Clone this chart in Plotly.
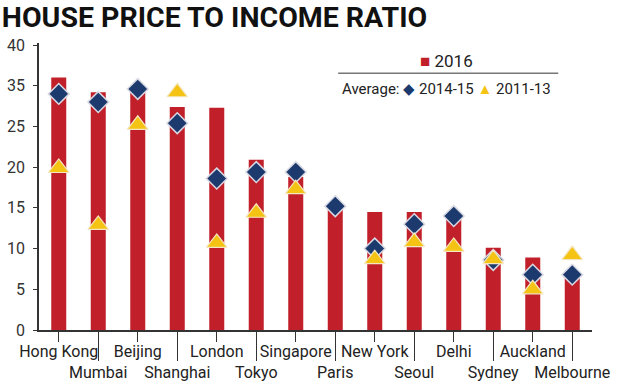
import plotly.graph_objects as go

cities = ["Hong Kong", "Mumbai", "Beijing", "Shanghai", "London", "Tokyo", "Singapore",
          "Paris", "New York", "Seoul", "Delhi", "Sydney", "Auckland", "Melbourne"]
ratio_2016 = [31.0, 29.2, 29.5, 27.4, 27.3, 20.9, 18.8, 14.8, 14.5, 14.5, 14.0, 10.1, 8.9, 7.0]
avg_2014_15 = [29.0, 28.0, 29.6, 25.4, 18.6, 19.4, 19.4, 15.2, 10.0, 13.0, 14.0, 8.6, 6.8, 6.8]
avg_2011_13 = [19.9, 12.9, 25.2, 29.2, 10.7, 14.4, 17.3, None, 8.7, 10.8, 10.2, 8.7, 5.0, 9.2]
y_tick_vals = [0, 5, 10, 15, 20, 25, 30, 35]
y_tick_text = ["0", "5", "10", "15", "20", "25", "35", "40"]

RED = "#C1202B"
NAVY = "#1C3A6E"
GOLD = "#F5C313"
FONT = "Roboto, Arial, sans-serif"

fig = go.Figure()
fig.add_trace(go.Bar(x=cities, y=ratio_2016, name="2016", marker=dict(color=RED, line=dict(width=0)),
                     width=0.38, showlegend=False))
fig.add_trace(go.Scatter(x=cities, y=avg_2014_15, mode="markers", name="2014-15", showlegend=False,
                         marker=dict(symbol="diamond", size=16, color=NAVY,
                                     line=dict(color="#D9D9E3", width=1.5))))
fig.add_trace(go.Scatter(x=cities, y=avg_2011_13, mode="markers", name="2011-13", showlegend=False,
                         marker=dict(symbol="triangle-up", size=18, color=GOLD,
                                     line=dict(color="#F3E6C0", width=1.2))))
# dummy trace to carry the second (staggered) category axis
fig.add_trace(go.Scatter(x=cities, y=[None] * len(cities), xaxis="x2", mode="markers",
                         showlegend=False, hoverinfo="skip"))

fig.update_layout(
    width=618, height=391,
    margin=dict(l=39, r=26, t=43, b=61),
    paper_bgcolor="white", plot_bgcolor="white",
    font=dict(family=FONT, size=16, color="#222"),
    xaxis=dict(type="category", categoryorder="array", categoryarray=cities, automargin=False,
               range=[-0.5, 13.5], tickmode="array", tickvals=cities[0::2], ticktext=cities[0::2],
               ticks="outside", ticklen=10, tickcolor="#333", tickwidth=1.2,
               showline=True, linecolor="#333", linewidth=1.5, showgrid=False, zeroline=False,
               tickfont=dict(family=FONT, size=16, color="#222"), ticklabelstandoff=-4),
    xaxis2=dict(type="category", categoryorder="array", categoryarray=cities, automargin=False,
                overlaying="x", anchor="y", side="bottom",
                range=[-0.5, 13.5], tickmode="array", tickvals=cities[1::2], ticktext=cities[1::2],
                ticks="outside", ticklen=30, tickcolor="#333", tickwidth=1.2,
                showline=False, showgrid=False, zeroline=False,
                tickfont=dict(family=FONT, size=16, color="#222"), ticklabelstandoff=-2),
    yaxis=dict(range=[0, 35.25], tickmode="array", tickvals=y_tick_vals, ticktext=y_tick_text,
               automargin=False,
               ticks="outside", ticklen=4, tickcolor="#333", tickwidth=1.2,
               showline=True, linecolor="#333", linewidth=1.5, showgrid=False, zeroline=False,
               tickfont=dict(family=FONT, size=16, color="#333"), ticklabelstandoff=5),
    title=dict(text="<b>HOUSE PRICE TO INCOME RATIO</b>", x=0.003, xanchor="left", y=0.982, yanchor="top",
               font=dict(family=FONT, size=28.5, color="#111")),
)

# legend block
fig.add_annotation(xref="paper", yref="paper", x=0.685, y=0.937, xanchor="left", yanchor="middle",
                   showarrow=False,
                   text=f"<span style='color:{RED}'>■</span> 2016",
                   font=dict(family=FONT, size=17, color="#222"))
fig.add_shape(type="line", xref="paper", yref="paper", x0=0.541, x1=0.939, y0=0.895, y1=0.895,
              line=dict(color="#777", width=1.5))
fig.add_annotation(xref="paper", yref="paper", x=0.544, y=0.840, xanchor="left", yanchor="middle",
                   showarrow=False,
                   text=(f"Average: <span style='color:{NAVY}'>◆</span> 2014-15 "
                         f"<span style='color:{GOLD}'>▲</span> 2011-13"),
                   font=dict(family=FONT, size=15, color="#222"))

fig.write_html("out.html", config={"displayModeBar": False},
               post_script="document.body.style.margin='0';")
